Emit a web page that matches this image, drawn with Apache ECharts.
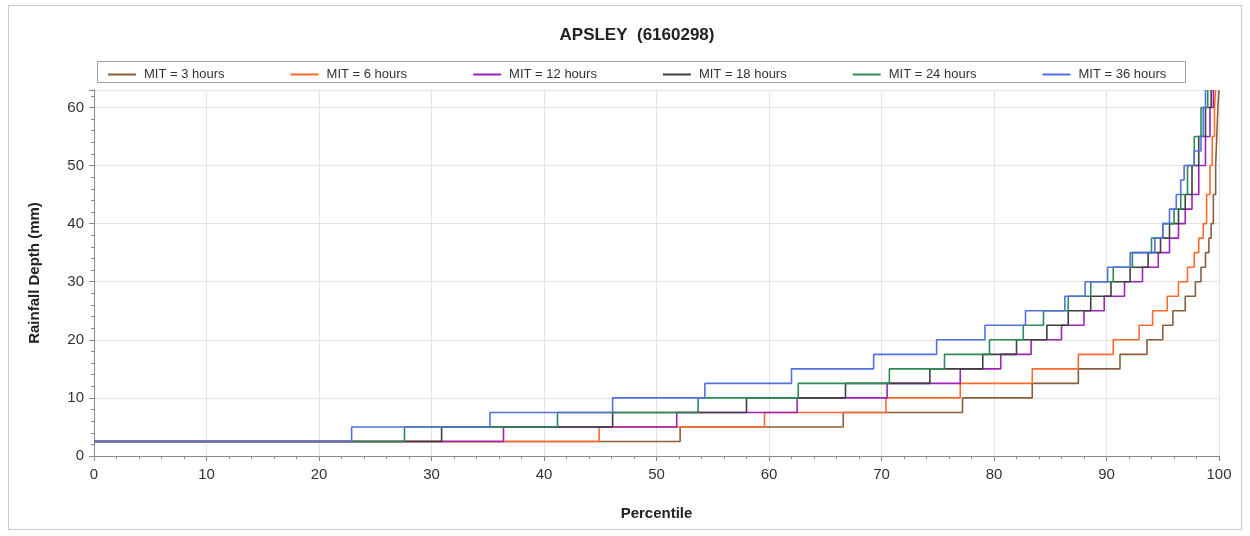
<!DOCTYPE html>
<html>
<head>
<meta charset="utf-8">
<script src="https://cdn.jsdelivr.net/npm/echarts@6/dist/echarts.min.js"></script>
<style>
html,body{margin:0;padding:0;background:#fff;}
#frame{position:absolute;left:8px;top:5px;width:1234px;height:525px;border:1px solid #c8c8c8;box-sizing:border-box;}
#chart{position:absolute;left:0;top:0;width:1250px;height:536px;}
</style>
</head>
<body>
<div id="frame"></div>
<div id="chart"></div>
<script>
// ---- data (percentile where the depth steps up, depth reached) ----
const seriesNames = ['MIT = 3 hours','MIT = 6 hours','MIT = 12 hours','MIT = 18 hours','MIT = 24 hours','MIT = 36 hours'];
const baseDepth = 2.5;
const mit3P  = [52.1, 66.6, 77.2, 83.4, 87.5, 91.2, 93.6, 95.0, 95.9, 97.0, 97.9, 98.4, 98.8, 99.1, 99.3, 99.5, 99.7, 99.8, 99.9, 100];
const mit3D  = [5, 7.5, 10, 12.5, 15, 17.5, 20, 22.5, 25, 27.5, 30, 32.5, 35, 37.5, 40, 45, 50, 55, 60, 63];
const mit6P  = [44.9, 59.6, 70.4, 77.0, 83.4, 87.5, 90.6, 92.9, 94.1, 95.4, 96.4, 97.2, 97.8, 98.2, 98.6, 98.9, 99.2, 99.4, 99.6, 99.7];
const mit6D  = [5, 7.5, 10, 12.5, 15, 17.5, 20, 22.5, 25, 27.5, 30, 32.5, 35, 37.5, 40, 45, 50, 55, 60, 63];
const mit12P = [36.4, 51.8, 62.5, 70.5, 77.0, 80.6, 83.3, 86.0, 88.0, 89.8, 91.6, 93.2, 94.6, 95.6, 96.4, 97.0, 97.6, 98.2, 98.8, 99.2, 99.5];
const mit12D = [5, 7.5, 10, 12.5, 15, 17.5, 20, 22.5, 25, 27.5, 30, 32.5, 35, 37.5, 40, 42.5, 45, 50, 55, 60, 63];
const mit18P = [30.9, 46.1, 58.0, 66.8, 74.3, 79.0, 82.0, 84.7, 86.6, 88.6, 90.4, 92.1, 93.7, 94.8, 95.6, 96.4, 97.0, 97.6, 98.2, 98.8, 99.3];
const mit18D = [5, 7.5, 10, 12.5, 15, 17.5, 20, 22.5, 25, 27.5, 30, 32.5, 35, 37.5, 40, 42.5, 45, 50, 55, 60, 63];
const mit24P = [27.6, 41.2, 53.7, 62.6, 70.7, 75.6, 79.6, 82.6, 84.4, 86.6, 88.6, 90.6, 92.3, 94.0, 95.0, 96.0, 96.6, 97.2, 97.8, 98.4, 99.0];
const mit24D = [5, 7.5, 10, 12.5, 15, 17.5, 20, 22.5, 25, 27.5, 30, 32.5, 35, 37.5, 40, 42.5, 45, 50, 55, 60, 63];
const mit36P = [22.9, 35.2, 46.1, 54.3, 62.0, 69.3, 74.9, 79.2, 82.8, 86.3, 88.1, 90.1, 92.1, 94.3, 95.0, 95.6, 96.2, 96.6, 96.9, 97.8, 98.4, 98.6, 98.8, 99.0];
const mit36D = [5, 7.5, 10, 12.5, 15, 17.5, 20, 22.5, 25, 27.5, 30, 32.5, 35, 37.5, 40, 42.5, 45, 47.5, 50, 52.5, 55, 60, 63];
const xTicks = [0, 10, 20, 30, 40, 50, 60, 70, 80, 90, 100];
const yTicks = [0, 10, 20, 30, 40, 50, 60];

const colors = ['#8B5E3C', '#FF6A2B', '#9B23B8', '#404040', '#2E8B57', '#5470E0'];
const stepP = [mit3P, mit6P, mit12P, mit18P, mit24P, mit36P];
const stepD = [mit3D, mit6D, mit12D, mit18D, mit24D, mit36D];

function build(P, D) {
  const out = [[0, baseDepth]];
  const n = Math.min(P.length, D.length);
  for (let i = 0; i < n; i++) out.push([P[i], D[i]]);
  return out;
}

const chart = echarts.init(document.getElementById('chart'));
const font = 'Liberation Sans, Arial, sans-serif';
const axisCol = '#8a8a8a';

const series = seriesNames.map((n, i) => ({
  name: n,
  type: 'line',
  step: 'end',
  symbol: 'none',
  data: build(stepP[i], stepD[i]),
  lineStyle: { width: 1.6, color: colors[i] },
  itemStyle: { color: colors[i] },
  z: 2 + i
}));

chart.setOption({
  animation: false,
  textStyle: { fontFamily: font },
  title: {
    text: 'APSLEY  (6160298)',
    left: 632, textAlign: 'center', top: 22,
    textStyle: { fontSize: 17, fontWeight: 'bold', color: '#222', fontFamily: font }
  },
  graphic: [{
    type: 'rect', left: 95, top: 59, silent: true,
    shape: { width: 1088, height: 21 },
    style: { fill: 'none', stroke: '#a0a0a0', lineWidth: 1 }
  }],
  legend: {
    left: 103, top: 63,
    icon: 'rect',
    itemWidth: 28, itemHeight: 2, itemGap: 66,
    textStyle: { fontSize: 13, color: '#333', fontFamily: font, padding: [0, 0, 0, 3] },
    data: seriesNames
  },
  grid: { left: 94, right: 31, top: 90, bottom: 80 },
  xAxis: [{
    type: 'value', min: 0, max: 100, interval: 10,
    name: 'Percentile', nameLocation: 'middle', nameGap: 50,
    nameTextStyle: { fontSize: 15, fontWeight: 'bold', color: '#222' },
    axisLine: { show: true, lineStyle: { color: axisCol } },
    axisTick: { show: true, length: 5, lineStyle: { color: axisCol } },
    minorTick: { show: true, splitNumber: 5, length: 3, lineStyle: { color: axisCol } },
    axisLabel: { fontSize: 15, color: '#333', margin: 11,
      formatter: v => xTicks.includes(v) ? String(v) : '' },
    splitLine: { show: true, lineStyle: { color: '#e4e4e4' } }
  }, {
    type: 'value', min: 0, max: 100, interval: 10, position: 'top',
    axisLine: { show: true, lineStyle: { color: axisCol } },
    axisTick: { show: true, inside: true, length: 5, lineStyle: { color: axisCol } },
    minorTick: { show: true, splitNumber: 5, length: 3, lineStyle: { color: axisCol } },
    axisLabel: { show: false }, splitLine: { show: false }
  }],
  yAxis: [{
    type: 'value', min: 0, max: 63, interval: 10,
    name: 'Rainfall Depth (mm)', nameLocation: 'middle', nameGap: 52, nameRotate: 90,
    nameTextStyle: { fontSize: 15, fontWeight: 'bold', color: '#222' },
    axisLine: { show: true, lineStyle: { color: axisCol } },
    axisTick: { show: true, length: 5, lineStyle: { color: axisCol } },
    minorTick: { show: true, splitNumber: 5, length: 3, lineStyle: { color: axisCol } },
    axisLabel: { fontSize: 15, color: '#333', margin: 10, showMaxLabel: false,
      formatter: v => yTicks.includes(v) ? String(v) : '' },
    splitLine: { show: true, lineStyle: { color: '#e4e4e4' } }
  }, {
    type: 'value', min: 0, max: 63, interval: 10, position: 'right',
    axisLine: { show: true, lineStyle: { color: axisCol } },
    axisTick: { show: true, inside: true, length: 5, lineStyle: { color: axisCol } },
    minorTick: { show: true, splitNumber: 5, length: 3, lineStyle: { color: axisCol } },
    axisLabel: { show: false }, splitLine: { show: false }
  }],
  series: series
});
</script>
</body>
</html>
